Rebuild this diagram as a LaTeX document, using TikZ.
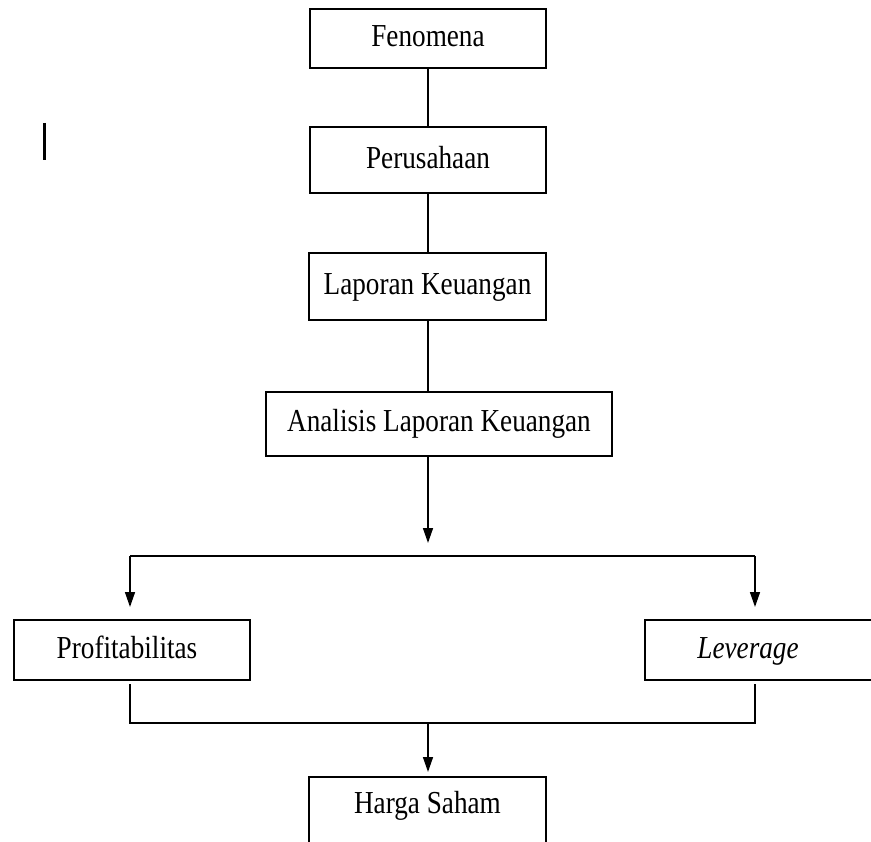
\documentclass[tikz,border=0pt]{standalone}
\usepackage{fontspec}
\setmainfont{Liberation Serif}
\usetikzlibrary{arrows.meta,calc}
\newcommand{\nt}[1]{\scalebox{0.85}[1]{#1}}
\tikzset{
  boxnode/.style={draw=black, line width=2pt, rectangle, inner sep=0pt,
    text height=22pt, text depth=6pt,
    font=\fontsize{32}{38}\selectfont},
  conn/.style={draw=black, line width=1.5pt},
  arr/.style={conn, -{Triangle[length=15pt,width=10pt]}}
}
\begin{document}
\begin{tikzpicture}[x=1pt,y=-1pt]
\useasboundingbox (0,0) rectangle (871,842);
\node[boxnode, minimum width=236pt, minimum height=59pt] (fen) at (428,38.5) {\nt{Fenomena}};
\node[boxnode, minimum width=236pt, minimum height=66pt] (per) at (428,160.5) {\nt{Perusahaan}};
\node[boxnode, minimum width=237pt, minimum height=67pt] (lap) at (427.5,286.5) {\nt{Laporan Keuangan}};
\node[boxnode, minimum width=346pt, minimum height=64pt] (ana) at (439,424) {\nt{Analisis Laporan Keuangan}};
\node[boxnode, minimum width=236pt, minimum height=60pt] (prof) at (132,650) {\hspace*{-10pt}\nt{Profitabilitas}};
\node[boxnode, minimum width=236pt, minimum height=60pt] (lev) at (763,650) {\hspace*{-30pt}\nt{\textit{Leverage}}};
\node[boxnode, minimum width=237pt, minimum height=66pt] (harga) at (427.5,810) {\raisebox{5pt}{\nt{Harga Saham}}};
% small vertical bar
\draw[line width=3pt] (44,123) -- (44,160);
% connectors
\draw[conn] (fen.south) -- (per.north);
\draw[conn] (per.south) -- (fen.south |- lap.north);
\draw[conn] (fen.south |- lap.south) -- (fen.south |- ana.north);
\coordinate (split) at (428,556);
\coordinate (sl) at (130,556);
\coordinate (sr) at (755,556);
\coordinate (jl) at (130,723);
\coordinate (jr) at (755,723);
\coordinate (join) at (428,723);
\draw[arr, shorten >=13pt] (fen.south |- ana.south) -- (split);
\draw[conn] (sl) -- (sr);
\draw[arr, shorten >=12pt] (sl) -- (sl |- prof.north);
\draw[arr, shorten >=12pt] (sr) -- (sr |- lev.north);
\draw[conn] ([yshift=-3pt]sl |- prof.south) -- (jl) -- (jr) -- ([yshift=-3pt]sr |- lev.south);
\draw[arr, shorten >=4pt] (join) -- (join |- harga.north);
\end{tikzpicture}
\end{document}
